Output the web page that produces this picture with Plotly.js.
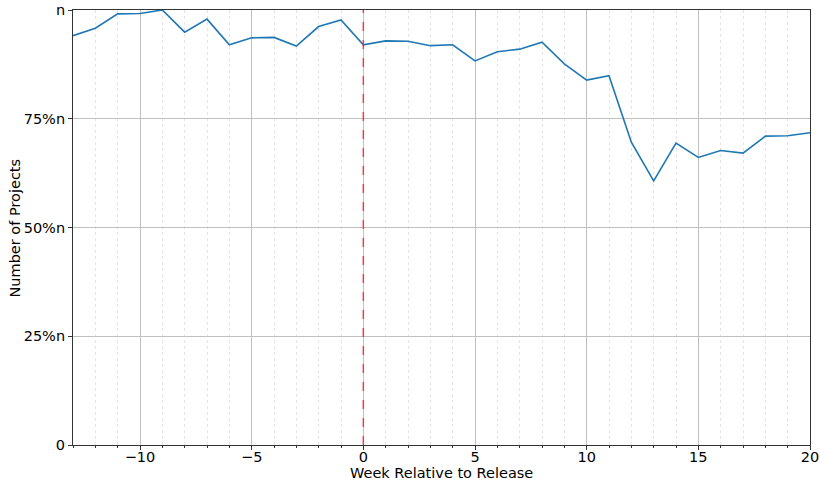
<!DOCTYPE html>
<html>
<head>
<meta charset="utf-8">
<script src="https://cdn.plot.ly/plotly-3.0.1.min.js"></script>
<style>html,body{margin:0;padding:0;background:#fff;}#chart{width:820px;height:480px;}</style>
</head>
<body>
<div id="chart"></div>
<script>
const weeks = [-13,-12,-11,-10,-9,-8,-7,-6,-5,-4,-3,-2,-1,0,1,2,3,4,5,6,7,8,9,10,11,12,13,14,15,16,17,18,19,20];
const shareOfProjects = [0.941,0.958,0.991,0.992,1.0,0.949,0.979,0.920,0.936,0.937,0.917,0.962,0.977,0.920,0.929,0.928,0.918,0.920,0.883,0.904,0.910,0.926,0.876,0.839,0.849,0.696,0.607,0.694,0.661,0.677,0.671,0.710,0.711,0.718];
const yTickVals = [0,0.25,0.5,0.75,1];
const yTickText = ["0","25%n","50%n","75%n","n"];
const xTickVals = [-10,-5,0,5,10,15,20];
const xTickText = ["\u221210","\u22125","0","5","10","15","20"];
const releaseWeek = 0;

const font = {family: "DejaVu Sans, sans-serif", size: 14.5, color: "#000"};

Plotly.newPlot("chart", [{
  x: weeks, y: shareOfProjects, type: "scatter", mode: "lines",
  line: {color: "#1f77b4", width: 1.6}, hoverinfo: "skip"
}], {
  width: 820, height: 480,
  margin: {l: 73, r: 10, t: 10, b: 35},
  paper_bgcolor: "#fff", plot_bgcolor: "#fff",
  showlegend: false,
  font: font,
  xaxis: {
    range: [-13, 20], tickvals: xTickVals, ticktext: xTickText,
    showgrid: true, gridcolor: "#c0c0c0", gridwidth: 1,
    ticks: "outside", ticklen: 4, tickcolor: "#333", tickwidth: 1,
    ticklabelstandoff: -5,
    showline: true, linecolor: "#333", linewidth: 1, mirror: true,
    zeroline: false, tickfont: font, automargin: false,
    minor: {dtick: 1, tick0: 0, showgrid: true, gridcolor: "#e4e4e4", griddash: "dot", gridwidth: 1, ticks: "outside", ticklen: 2, tickcolor: "#333"}
  },
  yaxis: {
    range: [0, 1], tickvals: yTickVals, ticktext: yTickText,
    showgrid: true, gridcolor: "#c0c0c0", gridwidth: 1,
    ticks: "outside", ticklen: 4, tickcolor: "#333", tickwidth: 1,
    showline: true, linecolor: "#333", linewidth: 1, mirror: true,
    zeroline: false, tickfont: font, automargin: false
  },
  annotations: [
    {text: "Week Relative to Release", xref: "paper", yref: "paper", x: 0.5, y: -0.0644,
     xanchor: "center", yanchor: "middle", showarrow: false, font: font},
    {text: "Number of Projects", xref: "paper", yref: "paper", x: -0.0787, y: 0.5,
     xanchor: "center", yanchor: "middle", textangle: -90, showarrow: false, font: font}
  ],
  shapes: [{
    type: "line", xref: "x", yref: "paper", x0: releaseWeek, x1: releaseWeek, y0: 0, y1: 1,
    line: {color: "rgba(240,40,40,0.85)", width: 1.5, dash: "dash"}
  }]
}, {staticPlot: true});
</script>
</body>
</html>
